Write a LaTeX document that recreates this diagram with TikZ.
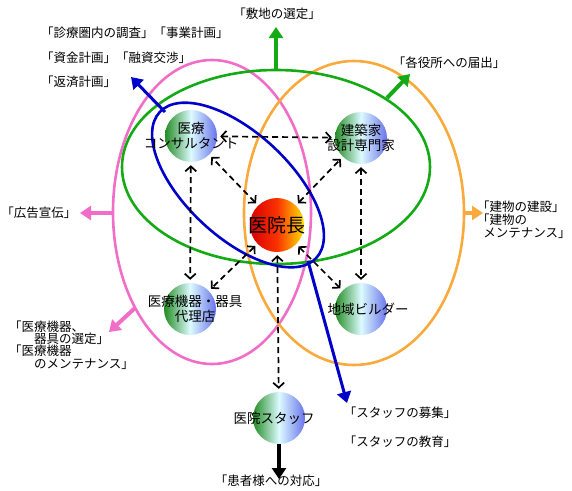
\documentclass[tikz,border=0pt]{standalone}
\usepackage{fontspec}
\setmainfont{Noto Sans CJK JP}
\usepackage{tikz}
\usetikzlibrary{arrows.meta}
\usetikzlibrary{calc}

\definecolor{ringpink}{RGB}{240,110,200}
\definecolor{ringorange}{RGB}{250,170,60}
\definecolor{ringgreen}{RGB}{20,170,20}
\definecolor{ringblue}{RGB}{0,0,200}
\definecolor{ballgreen}{RGB}{35,140,35}
\definecolor{ballwhite}{RGB}{220,250,255}
\definecolor{ballblue}{RGB}{105,115,235}

\tikzset{
  ring/.style={line width=2.6pt},
  fat/.style={line width=4pt,-{Triangle[width=14pt,length=11pt]}},
  ball/.style={circle,minimum size=52pt,inner sep=0pt,
    left color=ballgreen,right color=ballblue,middle color=ballwhite},
  inner/.style={font=\fontsize{13.5}{15}\selectfont,inner sep=0pt,align=center},
  note/.style={font=\fontsize{12.5}{13}\selectfont,inner sep=0pt},
}

\begin{document}
\begin{tikzpicture}[x=1pt,y=-1pt]
  \useasboundingbox (0,0) rectangle (572,490);

  % the three rings
  \draw [ring,ringpink]   (212,212) ellipse [x radius=99,y radius=152];
  \draw [ring,ringorange] (354,213) ellipse [x radius=110,y radius=152];
  \draw [ring,ringgreen]  (276,167) ellipse [x radius=154,y radius=97];
  \draw [ring,ringblue,rotate around={-43:(238,185)}]
    (238,185) ellipse [x radius=107,y radius=52];

  \node [ball,label={[inner]center:医療\\コンサルタント}] (cons) at (191,136) {};
  \node [ball,label={[inner]center:建築家\\設計専門家}] (arch) at (361,138) {};
  \node [ball,label={[inner,xshift=5pt]center:医療機器・器具\\代理店}] (equip) at (190,309) {};
  \node [ball,label={[inner,xshift=7pt]center:地域ビルダー}] (build) at (361,309) {};
  \node [ball,label={[inner,xshift=-5pt]center:医院スタッフ}] (staff) at (279,418) {};
  \node [circle,minimum size=54pt,inner sep=0pt,
         left color={rgb,255:red,215;green,0;blue,0},
         right color={rgb,255:red,255;green,225;blue,0},
         middle color={rgb,255:red,250;green,50;blue,0},
         label={[inner,font=\fontsize{19}{21}\selectfont]center:医院長}] (boss) at (277,225) {};

  \path [draw,line width=1.7pt,dash pattern=on 6pt off 4pt,<->,
         >={Straight Barb[length=5pt,width=11pt]},shorten <=3pt,shorten >=3pt]
    (cons)  edge (arch)
    (cons)  edge (equip)
    (arch)  edge (build)
    (boss)  edge (cons)
    (boss)  edge (arch)
    (boss)  edge (equip)
    (boss)  edge (build)
    (boss)  edge (staff);

  % labels
  \node [note] (site) at (277,14) {「敷地の選定」};
  \node [note,anchor=west] (plan1) at (41,33) {「診療圏内の調査」「事業計画」};
  \node [note,anchor=west] (plan2) at (41,58) {「資金計画」「融資交渉」};
  \node [note,anchor=west] (plan3) at (41,82) {「返済計画」};
  \node [note] (office) at (449,63) {「各役所への届出」};
  \node [note] (ads) at (39,213) {「広告宣伝」};
  \node [note,anchor=west,align=left,font=\fontsize{12.5}{12.3}\selectfont]
    (tools) at (9,345) {「医療機器、\\　　器具の選定」\\「医療機器\\　　のメンテナンス」};
  \node [note,anchor=west,align=left] (house) at (477,220)
    {「建物の建設」\\「建物の\\\hspace{0.5em}メンテナンス」};
  \node [note] (hire) at (400,413) {「スタッフの募集」};
  \node [note] (train) at (400,442) {「スタッフの教育」};
  \node [note] (patient) at (271,481) {「患者様への対応」};

  % outward arrows
  \coordinate (gtop) at (276,70);
  \coordinate (gtopend) at (276,27);
  \coordinate (gne) at (387,98);
  \coordinate (gneend) at (410,74);
  \coordinate (pleft) at (114,213);
  \coordinate (pleftend) at (80,213);
  \coordinate (plow) at (135,308);
  \coordinate (plowend) at (109,332);
  \coordinate (oright) at (464,213);
  \coordinate (orightend) at (483,213);
  \coordinate (bup) at (165,112);
  \coordinate (bupend) at (131,77);
  \coordinate (bdown) at (308,261);
  \coordinate (bdownend) at (347,403);
  \coordinate (staffend) at (279,479);

  \draw [fat,ringgreen] (gtop) -- (gtopend);
  \draw [fat,ringgreen] (gne) -- (gneend);
  \draw [fat,ringpink] (pleft) -- (pleftend);
  \draw [fat,ringpink] (plow) -- (plowend);
  \draw [fat,ringorange] (oright) -- (orightend);
  \draw [fat,ringblue,line width=3pt] (bup) -- (bupend);
  \draw [fat,ringblue,line width=3pt] (bdown) -- (bdownend);
  \draw [fat,black] (staff) -- (staffend);

\end{tikzpicture}
\end{document}
